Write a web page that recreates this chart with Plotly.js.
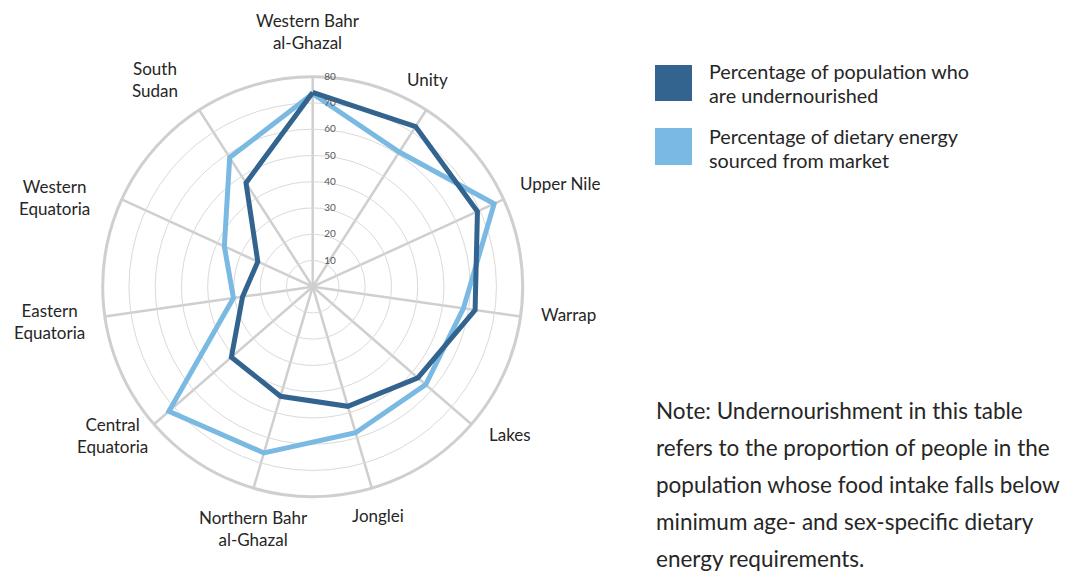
<!DOCTYPE html>
<html>
<head>
<meta charset="utf-8">
<script src="https://cdn.plot.ly/plotly-3.0.1.min.js"></script>
<style>
html,body{margin:0;padding:0;background:#fff;}
#chart{width:1065px;height:575px;}
</style>
</head>
<body>
<div id="chart"></div>
<script>
const categories = ["Western Bahr al-Ghazal","Unity","Upper Nile","Warrap","Lakes","Jonglei","Northern Bahr al-Ghazal","Central Equatoria","Eastern Equatoria","Western Equatoria","South Sudan"];
const tickLabels = ["Western Bahr<br>al-Ghazal","Unity","Upper Nile","Warrap","Lakes","Jonglei","Northern Bahr<br>al-Ghazal","Central<br>Equatoria","Eastern<br>Equatoria","Western<br>Equatoria","South<br>Sudan"];
const undernourished = [74, 72.5, 69, 62.5, 53, 47.5, 43.5, 41, 27, 23, 47];
const marketEnergy = [73.5, 61, 76, 58, 57, 58, 66, 72.5, 30.5, 37, 58.5];
const radialTicks = [10,20,30,40,50,60,70,80];
const seriesNames = ["Percentage of population who<br>are undernourished","Percentage of dietary energy<br>sourced from market"];
const noteLines = ["Note: Undernourishment in this table","refers to the proportion of people in the","population whose food intake falls below","minimum age- and sex-specific dietary","energy requirements."];

const darkBlue = "#33648f";
const lightBlue = "#79b9e2";
const FONT = "Lato, 'Open Sans', sans-serif";
const TXT = "#262626";

function closed(a){ return a.concat([a[0]]); }

const traces = [
  {type:"scatterpolar", mode:"lines", r:closed(marketEnergy), theta:closed(categories),
   line:{color:lightBlue, width:5}, name:seriesNames[1], showlegend:false, hoverinfo:"skip"},
  {type:"scatterpolar", mode:"lines", r:closed(undernourished), theta:closed(categories),
   line:{color:darkBlue, width:5}, name:seriesNames[0], showlegend:false, hoverinfo:"skip"}
];

const R = 210, cx = 312.7, cyTop = 286.7, W = 1065, H = 575;
const layout = {
  width:W, height:H,
  margin:{l:0,r:0,t:0,b:0},
  paper_bgcolor:"#fff",
  font:{family:FONT, color:TXT},
  showlegend:false,
  polar:{
    domain:{x:[(cx-R)/W,(cx+R)/W], y:[(H-cyTop-R)/H,(H-cyTop+R)/H]},
    bgcolor:"#fff",
    angularaxis:{
      type:"category", direction:"clockwise", rotation:90,
      categoryarray:categories,
      showticklabels:false, ticks:"",
      showline:true, linecolor:"#cfcfcf", linewidth:3,
      showgrid:true, gridcolor:"#cfcfcf", gridwidth:2.5
    },
    radialaxis:{
      range:[0,80], angle:90, side:"clockwise", tickangle:90,
      tickmode:"array", tickvals:radialTicks,
      tickfont:{size:10, color:"#595959", family:FONT},
      showline:false, ticks:"outside", ticklen:9, tickcolor:"rgba(0,0,0,0)",
      showgrid:true, gridcolor:"#dadada", gridwidth:1
    }
  },
  shapes:[
    {type:"rect", xref:"paper", yref:"paper", x0:655/W, x1:692/W, y0:1-101/H, y1:1-65/H, fillcolor:darkBlue, line:{width:0}},
    {type:"rect", xref:"paper", yref:"paper", x0:655/W, x1:692/W, y0:1-165/H, y1:1-128/H, fillcolor:lightBlue, line:{width:0}}
  ],
  annotations:[]
};

// category labels placed around the circle (centre of each text block, px)
const labelPos = [[308,32],[427,80],[560,183],[568,314],[510,434],[378,515],[253,528],[112,435],[49,321],[54,197],[155,80]];
tickLabels.forEach((t,i)=>{
  layout.annotations.push({xref:"paper", yref:"paper", x:labelPos[i][0]/W, y:1-labelPos[i][1]/H,
    xanchor:"center", yanchor:"middle", align:"center", showarrow:false, text:t,
    font:{size:17, color:TXT, family:FONT}});
});

// legend text
const legendY = [[71,95],[136,160]];
seriesNames.forEach((s,i)=>{
  s.split("<br>").forEach((ln,j)=>{
    layout.annotations.push({xref:"paper", yref:"paper", x:707/W, y:1-legendY[i][j]/H, xanchor:"left", yanchor:"middle",
      showarrow:false, text:ln, font:{size:19.8, color:TXT, family:FONT}});
  });
});

const noteY = [410, 447, 484, 521, 558];
noteLines.forEach((t,i)=>{
  layout.annotations.push({xref:"paper", yref:"paper", x:654/W, y:1-noteY[i]/H, xanchor:"left", yanchor:"middle",
    showarrow:false, text:t, font:{size:22.5, color:TXT, family:FONT}});
});

Plotly.newPlot("chart", traces, layout, {displayModeBar:false, staticPlot:true});
</script>
</body>
</html>
